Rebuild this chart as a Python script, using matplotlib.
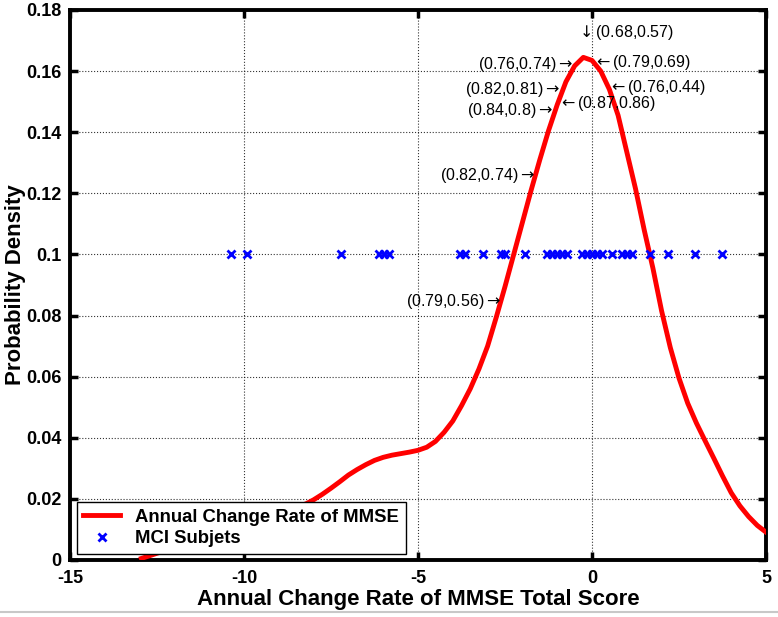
import matplotlib.pyplot as plt
from matplotlib.lines import Line2D

plt.rcParams['font.family'] = ['Liberation Sans', 'DejaVu Sans']
plt.rcParams['mathtext.fontset'] = 'dejavusans'

# density curve
curve_x = [-12.95, -12.5, -12, -11, -10, -9, -8.2, -8.0, -7.75, -7.5, -7.25,
           -7.0, -6.75, -6.5, -6.25, -6.0, -5.75, -5.5, -5.25, -5.0, -4.75,
           -4.5, -4.25, -4.0, -3.75, -3.5, -3.25, -3.0, -2.75, -2.5, -2.25,
           -2.0, -1.75, -1.5, -1.25, -1.0, -0.75, -0.5, -0.25, 0.0, 0.25, 0.5,
           0.75, 1.0, 1.25, 1.5, 1.75, 2.0, 2.25, 2.5, 2.75, 3.0, 3.25, 3.5,
           3.75, 4.0, 4.25, 4.5, 4.75, 5.0]
curve_y = [0.0005, 0.0022, 0.004, 0.0075, 0.011, 0.0145, 0.0185, 0.0197,
           0.0215, 0.0235, 0.0256, 0.0278, 0.0296, 0.0312, 0.0326, 0.0336,
           0.0343, 0.0348, 0.0353, 0.0359, 0.0369, 0.0388, 0.0418, 0.0455,
           0.0505, 0.0560, 0.0625, 0.0700, 0.0795, 0.0895, 0.1000, 0.1105,
           0.1210, 0.1310, 0.1405, 0.1490, 0.1565, 0.1617, 0.1645, 0.1635,
           0.1600, 0.1540, 0.1455, 0.1335, 0.1215, 0.1080, 0.0955, 0.0815,
           0.0695, 0.0595, 0.0513, 0.0448, 0.0390, 0.0333, 0.0275, 0.0220,
           0.0177, 0.0142, 0.0113, 0.0091]

# MCI subjects (all drawn at 0.1)
subjects_x = [-10.37, -9.91, -7.21, -6.13, -5.98, -5.83, -3.79, -3.65, -3.12,
              -2.61, -2.5, -1.94, -1.30, -1.16, -1.01, -0.87, -0.73, -0.30,
              -0.15, -0.01, 0.13, 0.28, 0.57, 0.85, 1.0, 1.14, 1.67, 2.18, 2.95,
              3.74]
subjects_level = 0.1

# annotations: text, x, y, alignment
notes = [
    (r'$\downarrow$(0.68,0.57)', -0.45, 0.1725, 'left'),
    (r'(0.76,0.74)$\rightarrow$', -0.54, 0.162, 'right'),
    (r'$\leftarrow$(0.79,0.69)', 0.03, 0.1629, 'left'),
    (r'$\leftarrow$(0.76,0.44)', 0.45, 0.1547, 'left'),
    (r'(0.82,0.81)$\rightarrow$', -0.92, 0.1539, 'right'),
    (r'$\leftarrow$(0.87,0.86)', -0.99, 0.1494, 'left'),
    (r'(0.84,0.8)$\rightarrow$', -1.11, 0.147, 'right'),
    (r'(0.82,0.74)$\rightarrow$', -1.64, 0.1257, 'right'),
    (r'(0.79,0.56)$\rightarrow$', -2.6, 0.0847, 'right'),
]

xticks = [-15, -10, -5, 0, 5]
yticks = [0, 0.02, 0.04, 0.06, 0.08, 0.1, 0.12, 0.14, 0.16, 0.18]
ytick_labels = ['0', '0.02', '0.04', '0.06', '0.08', '0.1', '0.12', '0.14', '0.16', '0.18']

fig = plt.figure(figsize=(7.78, 6.17), dpi=100)
ax = fig.add_axes([0.09, 0.0924, 0.8946, 0.8914])

ax.plot(curve_x, curve_y, color='red', lw=3.5, label='Annual Change Rate of MMSE',
        zorder=3, solid_joinstyle='round')
ax.plot(subjects_x, [subjects_level] * len(subjects_x), 'x', color='blue', ms=6, mew=2,
        label='MCI Subjets', zorder=4)

for txt, tx, ty, ha in notes:
    ax.text(tx, ty, txt, ha=ha, va='center', fontsize=11.5, zorder=5)

ax.set_xlim(-15, 5)
ax.set_ylim(0, 0.18)
ax.set_xticks(xticks)
ax.set_xticklabels([str(t) for t in xticks])
ax.set_yticks(yticks)
ax.set_yticklabels(ytick_labels)
ax.tick_params(direction='in', length=6, width=2.5, top=True, right=True,
               labelsize=13)
ax.tick_params(axis='x', pad=7)
ax.tick_params(axis='y', pad=6)
for lab in ax.get_xticklabels() + ax.get_yticklabels():
    lab.set_fontweight('bold')
for s in ax.spines.values():
    s.set_linewidth(2.8)
ax.grid(True, linestyle=':', color='black', lw=0.8, alpha=0.8)

ax.set_xlabel('Annual Change Rate of MMSE Total Score', fontsize=16, fontweight='bold', labelpad=2)
ax.set_ylabel('Probability Density', fontsize=16, fontweight='bold', labelpad=0)

leg = ax.legend(loc='lower left', bbox_to_anchor=(0.01, 0.011), borderaxespad=0,
                fancybox=False, framealpha=1, edgecolor='black',
                prop={'size': 13.3, 'weight': 'bold'}, handlelength=2.0,
                borderpad=0.35, labelspacing=0.25)
leg.get_frame().set_linewidth(1.0)
leg.set_zorder(10)

# thin gray border at the bottom of the image
fig.add_artist(Line2D([0, 1], [0.008, 0.008], color='#c8c8c8', lw=1.5))

plt.savefig('out.png', dpi=100)
